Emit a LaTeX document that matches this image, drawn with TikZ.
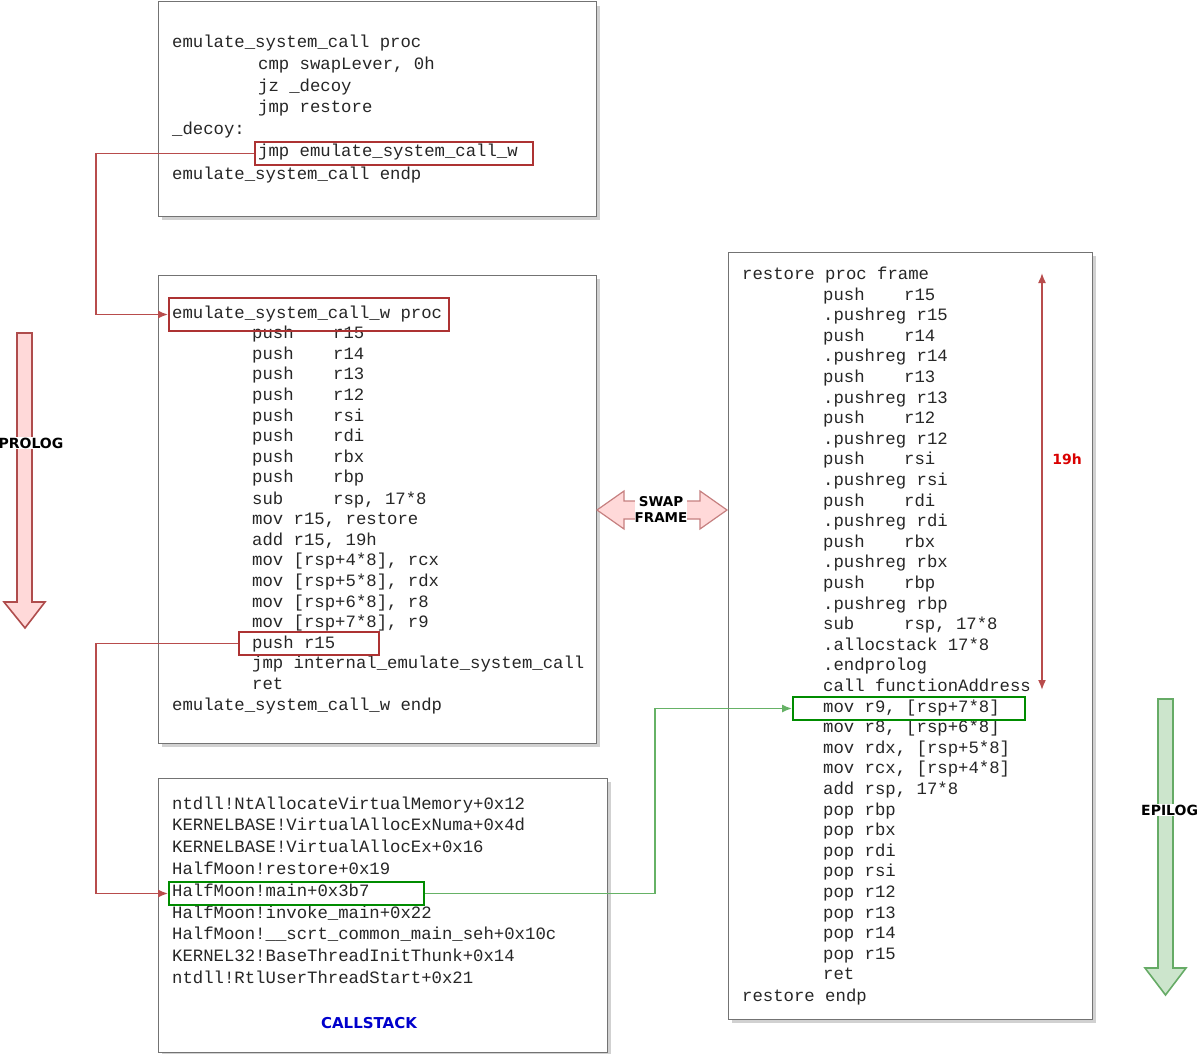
\documentclass[tikz,border=0pt]{standalone}
\usepackage{fontspec}
\usetikzlibrary{arrows.meta}
\setmainfont{DejaVu Sans}
\newfontfamily\codefont{Liberation Mono}
\begin{document}
\begin{tikzpicture}[x=1pt,y=-1pt,
  code/.style={font=\codefont\fontsize{17.3}{17.3}\selectfont,anchor=base west,inner sep=0pt,text=black!85},
  box/.style={draw=black!55,line width=1pt,fill=white},
  shadow/.style={fill=black!18},
  redr/.style={draw=red!60!black!80,line width=1.8pt},
  grnr/.style={draw=green!55!black,line width=1.8pt},
  redc/.style={draw=red!60!black!70,line width=1.6pt,-{Latex[length=10pt,width=8pt]}},
  grnc/.style={draw=green!50!black!60,line width=1.6pt,-{Latex[length=10pt,width=8pt]}},
  lbl/.style={font=\bfseries\fontsize{14}{14}\selectfont,inner sep=1pt}]
\useasboundingbox (0,0) rectangle (1200,1054);
% boxes with shadows
\foreach \a/\b/\c/\d in {158/2/596/216,158/275/596/743,158/778/607/1052,728/252/1092/1019}{
  \fill[shadow] (\a+4,\b+4) rectangle (\c+4,\d+4);
  \draw[box] (\a,\b) rectangle (\c,\d);}
% box1
\foreach \t/\x/\y in {emulate\_system\_call proc/172/48,cmp swapLever{,} 0h/258/70,jz \_decoy/258/92,jmp restore/258/113,\_decoy:/172/135,jmp emulate\_system\_call\_w/258/157,emulate\_system\_call endp/172/179}
  \node[code] at (\x,\y) {\t};
% box2
\node[code] at (172,318) {emulate\_system\_call\_w proc};
\foreach \r [count=\i] in {r15,r14,r13,r12,rsi,rdi,rbx,rbp}{
  \node[code] at (252,318+20.6*\i) {push};
  \node[code] at (333,318+20.6*\i) {\r};}
\node[code] at (252,504) {sub}; \node[code] at (333,504) {rsp, 17*8};
\foreach \t [count=\i] in {mov r15{,} restore,add r15{,} 19h,mov [rsp+4*8]{,} rcx,mov [rsp+5*8]{,} rdx,mov [rsp+6*8]{,} r8,mov [rsp+7*8]{,} r9,push r15,jmp internal\_emulate\_system\_call,ret}
  \node[code] at (252,504+20.6*\i) {\t};
\node[code] at (172,710) {emulate\_system\_call\_w endp};
% box3
\foreach \t [count=\i from 0] in {ntdll!NtAllocateVirtualMemory+0x12,KERNELBASE!VirtualAllocExNuma+0x4d,KERNELBASE!VirtualAllocEx+0x16,HalfMoon!restore+0x19,HalfMoon!main+0x3b7,HalfMoon!invoke\_main+0x22,HalfMoon!\_\_scrt\_common\_main\_seh+0x10c,KERNEL32!BaseThreadInitThunk+0x14,ntdll!RtlUserThreadStart+0x21}
  \node[code] at (172,809+21.8*\i) {\t};
\node[font=\bfseries\fontsize{15}{15}\selectfont,text=blue!80!black] (cs) at (369,1023) {CALLSTACK};
% box4
\node[code] at (742,279) {restore proc frame};
\foreach \r [count=\i from 0] in {r15,r14,r13,r12,rsi,rdi,rbx,rbp}{
  \node[code] at (823,300+41.2*\i) {push};
  \node[code] at (904,300+41.2*\i) {\r};
  \node[code] at (823,320.6+41.2*\i) {.pushreg \r};}
\node[code] at (823,629.6) {sub}; \node[code] at (904,629.6) {rsp, 17*8};
\foreach \t [count=\i] in {.allocstack 17*8,.endprolog,call functionAddress,mov r9{,} [rsp+7*8],mov r8{,} [rsp+6*8],mov rdx{,} [rsp+5*8],mov rcx{,} [rsp+4*8],add rsp{,} 17*8,pop rbp,pop rbx,pop rdi,pop rsi,pop r12,pop r13,pop r14,pop r15,ret}
  \node[code] at (823,629.6+20.6*\i) {\t};
\node[code] at (742,1001) {restore endp};
% highlight rects
\node[redr,minimum width=278,minimum height=23,inner sep=0pt] (jw) at (394,153.5) {};
\node[redr,minimum width=280,minimum height=33,inner sep=0pt] (pw) at (309,314.5) {};
\node[redr,minimum width=140,minimum height=23,inner sep=0pt] (pr) at (309,643.5) {};
\node[grnr,minimum width=255,minimum height=23,inner sep=0pt] (hm) at (296.5,893.5) {};
\node[grnr,minimum width=232,minimum height=23,inner sep=0pt] (mv) at (909,708.5) {};
% connectors
\coordinate (c1) at (96,153.5); \coordinate (c2) at (96,314.5);
\draw[redc] (jw.west) -- (c1) -- (c2) -- (pw.west);
\coordinate (c3) at (96,643.5); \coordinate (c4) at (96,893.5);
\draw[redc] (pr.west) -- (c3) -- (c4) -- (hm.west);
\coordinate (g1) at (655,893.5); \coordinate (g2) at (655,708.5);
\draw[grnc] (hm.east) -- (g1) -- (g2) -- (mv.west);
% 19h
\coordinate (t1) at (1042,273); \coordinate (t2) at (1042,690);
\draw[red!60!black!70,line width=1.6pt,{Latex[length=10pt,width=8pt]}-{Latex[length=10pt,width=8pt]}] (t1) -- (t2);
\node[font=\bfseries\fontsize{14}{14}\selectfont,text=red!85!black] (h19) at (1067,459) {19h};
% PROLOG arrow
\draw[draw=red!55!black!70,fill=red!15,line width=1.6pt] (17,333) -- (32,333) -- (32,602) -- (45,602) -- (25,628) -- (4,602) -- (17,602) -- cycle;
\node[lbl,fill=white] (pl) at (31,443) {PROLOG};
% EPILOG arrow
\draw[draw=green!45!black!60,fill=green!50!black!20,line width=1.6pt] (1158,699) -- (1173,699) -- (1173,968) -- (1186,968) -- (1165.5,995) -- (1145,968) -- (1158,968) -- cycle;
\node[lbl,fill=white,anchor=west] (el) at (1140,810) {EPILOG};
% SWAP FRAME arrow
\draw[draw=red!55!black!50,fill=red!15,line width=1.2pt] (597,510) -- (624,491) -- (624,501) -- (700,501) -- (700,491) -- (727,510) -- (700,529) -- (700,519) -- (624,519) -- (624,529) -- cycle;
\node[lbl,align=center,fill=white,inner sep=0pt,font=\bfseries\fontsize{13.5}{16}\selectfont] (sf) at (661,509) {SWAP\\FRAME};
\end{tikzpicture}
\end{document}
